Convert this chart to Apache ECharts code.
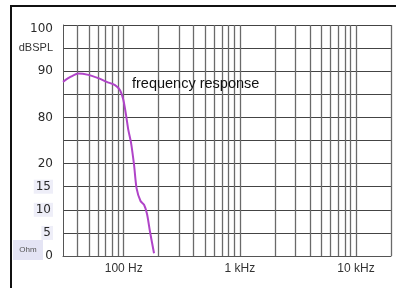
<!DOCTYPE html>
<html>
<head>
<meta charset="utf-8">
<script src="https://cdn.jsdelivr.net/npm/echarts@6/dist/echarts.min.js"></script>
<style>html,body{margin:0;padding:0;background:#fff;}#c{width:396px;height:288px;}</style>
</head>
<body>
<div id="c"></div>
<script>
// Frequency response curve (Hz, dBSPL)
var curveFreqs = [30, 35, 40.6, 49.6, 60.4, 71.4, 84.1, 92.9, 99.2, 104.7, 109.5, 115.6, 122.7, 128.9, 139.5, 149.6, 158.7, 168.5, 182.3];
var curveDb    = [87.7, 88.8, 89.5, 89.2, 88.5, 87.7, 87.0, 85.9, 83.8, 80.5, 77.3, 74.5, 69.7, 64.7, 61.9, 61.1, 59.1, 55.2, 50.6];

// Vertical grid frequencies
var gridFreqs = [40, 50, 60, 70, 80, 90, 100, 200, 300, 400, 500, 600, 700, 800, 900, 1000,
                 2000, 3000, 4000, 5000, 6000, 7000, 8000, 9000, 10000, 20000];

// X tick labels
var xTickValues = [100, 1000, 10000];
var xTickLabels = ['100 Hz', '1 kHz', '10 kHz'];

// Y tick labels (dual scale: dBSPL top, Ohm bottom)
var yTickValues = [50, 55, 60, 65, 70, 75, 80, 85, 90, 95, 100];
var yTickLabels = ['0', '5', '10', '15', '20', '', '80', '', '90', 'dBSPL', '100'];

var chart = echarts.init(document.getElementById('c'), null, {renderer: 'canvas'});
var FONT = 'Liberation Sans, Arial, sans-serif';
var YFONT = 'DejaVu Sans, sans-serif';

var curveData = curveFreqs.map(function (f, i) { return [f, curveDb[i]]; });

chart.setOption({
  animation: false,
  backgroundColor: '#ffffff',
  grid: {left: 63, right: 5, top: 25, bottom: 32, containLabel: false},
  title: {
    text: 'frequency response',
    left: 127, top: 71,
    textStyle: {fontFamily: FONT, fontSize: 14.5, fontWeight: 'normal', color: '#111'}
  },
  xAxis: {
    type: 'log', logBase: 10, min: 30, max: 20000,
    axisLine: {show: true, lineStyle: {color: '#555', width: 1}},
    axisTick: {show: false},
    splitLine: {show: false},
    minorTick: {show: false},
    axisLabel: {
      showMinLabel: false, showMaxLabel: false,
      margin: 7,
      fontFamily: FONT, fontSize: 12, color: '#333',
      formatter: function (v) {
        for (var i = 0; i < xTickValues.length; i++) {
          if (Math.abs(v - xTickValues[i]) < 1e-6 * xTickValues[i]) return xTickLabels[i];
        }
        return '';
      }
    }
  },
  yAxis: {
    type: 'value', min: 50, max: 100, interval: 5,
    axisLine: {show: true, lineStyle: {color: '#555', width: 1}},
    axisTick: {show: false},
    splitLine: {show: true, lineStyle: {color: '#444', width: 1}},
    axisLabel: {
      margin: 10,
      fontFamily: YFONT, fontSize: 12, color: '#2a2a2a',
      formatter: function (v) {
        var i = yTickValues.indexOf(Math.round(v));
        if (i < 0) return '';
        var t = yTickLabels[i];
        if (t === '') return '';
        if (t === 'dBSPL') return '{u|dBSPL}';
        if (t === '100') return '{top|100}';
        if (v <= 65 && v >= 55) return '{o|' + t + '}';
        return t;
      },
      rich: {
        u: {fontFamily: FONT, fontSize: 11, color: '#333'},
        top: {fontFamily: YFONT, fontSize: 12, color: '#2a2a2a', padding: [8, 0, 0, 0]},
        o: {fontFamily: YFONT, fontSize: 12, color: '#2a2a2a', backgroundColor: '#eeeef8', padding: [1, 2, 1, 2]}
      }
    }
  },
  graphic: [
    {type: 'polyline', silent: true, z: 10,
     shape: {points: [[11, 290], [11, 6], [398, 6]]},
     style: {stroke: '#111', lineWidth: 2, fill: null}},
    {type: 'rect', silent: true, shape: {x: 13, y: 240, width: 30, height: 20},
     style: {fill: '#e4e4f4'}},
    {type: 'text', silent: true, x: 28, y: 250,
     style: {text: 'Ohm', fontFamily: FONT, fontSize: 8, fill: '#555', align: 'center', verticalAlign: 'middle'}}
  ],
  series: [
    {
      type: 'line', data: [], z: 1, silent: true,
      markLine: {
        silent: true, symbol: ['none', 'none'], animation: false,
        label: {show: false},
        lineStyle: {type: 'solid', color: '#6a6a6a', width: 1.3},
        emphasis: {disabled: true},
        data: gridFreqs.map(function (f) { return {xAxis: f}; })
      }
    },
    {
      type: 'line', data: curveData, z: 5, silent: true,
      showSymbol: false, smooth: 0.25,
      lineStyle: {color: '#b044c8', width: 2}
    }
  ]
});
</script>
</body>
</html>
